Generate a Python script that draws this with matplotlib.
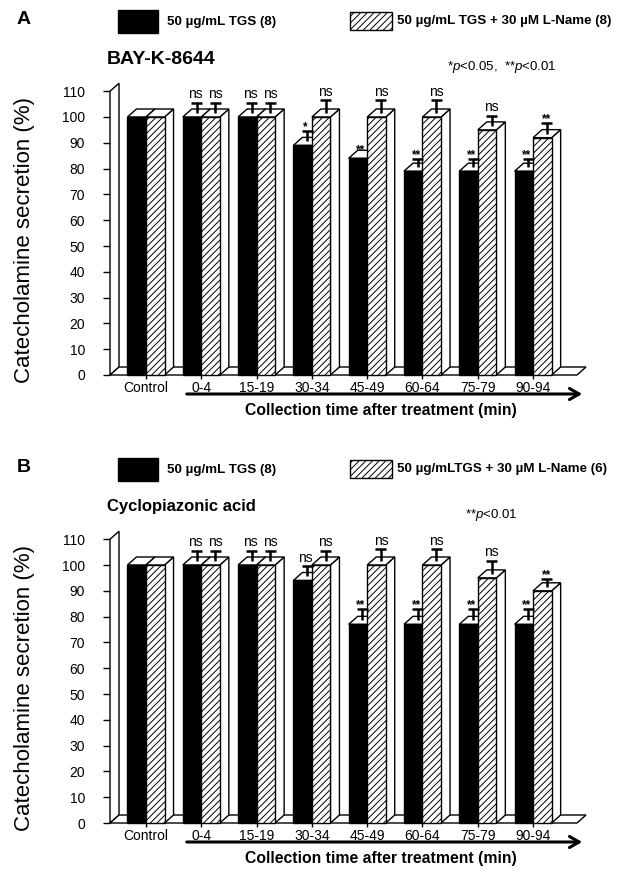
import matplotlib
matplotlib.use('Agg')
import matplotlib.pyplot as plt
from matplotlib.patches import Polygon, Rectangle, FancyArrowPatch

plt.rcParams['font.family'] = ['Liberation Sans', 'DejaVu Sans']
plt.rcParams['mathtext.fontset'] = 'custom'
plt.rcParams['mathtext.it'] = 'Liberation Sans:italic'
plt.rcParams['mathtext.rm'] = 'Liberation Sans'
plt.rcParams['hatch.linewidth'] = 0.7

# ---------------- data ----------------
categories = ['Control', '0-4', '15-19', '30-34', '45-49', '60-64', '75-79', '90-94']
yticks = [0, 10, 20, 30, 40, 50, 60, 70, 80, 90, 100, 110]

a_tgs = [100, 100, 100, 89, 84, 79, 79, 79]
a_tgs_err = [0, 4, 4, 4, 0, 3, 3, 3]
a_lname = [100, 100, 100, 100, 100, 100, 95, 92]
a_lname_err = [0, 4, 4, 5, 5, 5, 4, 4]
a_tgs_sig = ['', 'ns', 'ns', '*', '**', '**', '**', '**']
a_lname_sig = ['', 'ns', 'ns', 'ns', 'ns', 'ns', 'ns', '**']

b_tgs = [100, 100, 100, 94, 77, 77, 77, 77]
b_tgs_err = [0, 4, 4, 4, 4.5, 4.5, 4.5, 4.5]
b_lname = [100, 100, 100, 100, 100, 100, 95, 90]
b_lname_err = [0, 4, 4, 4, 4.5, 4.5, 5, 3]
b_tgs_sig = ['', 'ns', 'ns', 'ns', '**', '**', '**', '**']
b_lname_sig = ['', 'ns', 'ns', 'ns', 'ns', 'ns', 'ns', '**']

legend_a = ['50 µg/mL TGS (8)', '50 µg/mL TGS + 30 µM L-Name (8)']
legend_b = ['50 µg/mL TGS (8)', '50 µg/mLTGS + 30 µM L-Name (6)']

# ---------------- layout ----------------
W, H = 623, 871
fig = plt.figure(figsize=(W / 100, H / 100), dpi=100)


def fx(px):
    return px / W


def fy(py):
    return 1 - py / H


GROUP0_PX = 146.0      # pixel x of first group centre
GROUP_PX = 55.3        # pixels per group
BAR_W = 0.335          # bar width in group units
DX = 0.163             # 3D depth offset (group units)
DY = 3.1               # 3D depth offset (value units)
WALL_PX = 110.0
FLOOR_END_PX = 577.0
RIGHT_PX = 615.0


def panel(off, letter, title, title_fs, legend, tgs, tgs_err, lname, lname_err, tgs_sig, lname_sig,
          ptext, ptext_x):
    y0 = 375 + off
    y110 = 91.2 + off
    ax = fig.add_axes([fx(WALL_PX), fy(y0), fx(RIGHT_PX) - fx(WALL_PX), (y0 - y110) / H])
    i0 = (WALL_PX - GROUP0_PX) / GROUP_PX
    iend = (FLOOR_END_PX - GROUP0_PX) / GROUP_PX
    ax.set_xlim(i0, (RIGHT_PX - GROUP0_PX) / GROUP_PX)
    ax.set_ylim(0, 110)
    for s in ax.spines.values():
        s.set_visible(False)
    ax.patch.set_alpha(0)

    lw = 1.0
    # wall
    ax.add_patch(Polygon([(i0, 0), (i0, 110), (i0 + DX, 110 + DY), (i0 + DX, DY)],
                         closed=True, facecolor='white', edgecolor='black', lw=lw, clip_on=False, zorder=1))
    # floor
    ax.add_patch(Polygon([(i0, 0), (iend, 0), (iend + DX, DY), (i0 + DX, DY)],
                         closed=True, facecolor='white', edgecolor='black', lw=lw, clip_on=False, zorder=1))

    def bar3d(xl, v, face, hatch, z):
        ax.add_patch(Polygon([(xl + BAR_W, 0), (xl + BAR_W + DX, DY), (xl + BAR_W + DX, v + DY), (xl + BAR_W, v)],
                             closed=True, facecolor='white', edgecolor='black', lw=lw, clip_on=False, zorder=z))
        ax.add_patch(Polygon([(xl, v), (xl + DX, v + DY), (xl + BAR_W + DX, v + DY), (xl + BAR_W, v)],
                             closed=True, facecolor='white', edgecolor='black', lw=lw, clip_on=False, zorder=z))
        ax.add_patch(Rectangle((xl, 0), BAR_W, v, facecolor=face, edgecolor='black', hatch=hatch,
                               lw=lw, clip_on=False, zorder=z + 0.5))

    def errbar(xc, v, e, sig, z, dxo=0.0):
        base = v + DY / 2
        top = base + e
        if e > 0:
            ax.plot([xc, xc], [base, top], color='black', lw=1.8, clip_on=False, zorder=z,
                    solid_capstyle='butt')
            ax.plot([xc - 0.1, xc + 0.1], [top, top], color='black', lw=1.8, clip_on=False, zorder=z,
                    solid_capstyle='butt')
        if sig:
            if sig == 'ns':
                ax.text(xc + dxo, top + 0.6, sig, ha='center', va='bottom', fontsize=10, clip_on=False, zorder=z)
            else:
                ax.text(xc + dxo, top - 0.8, sig, ha='center', va='bottom', fontsize=8.5, fontweight='bold',
                        clip_on=False, zorder=z)

    for i in range(len(categories)):
        z = 3 + i * 2
        bar3d(i - BAR_W, tgs[i], 'black', None, z)
        bar3d(i, lname[i], 'white', '/////', z + 1)
        errbar(i - BAR_W / 2 + DX / 2, tgs[i], tgs_err[i], tgs_sig[i], z + 1.8, dxo=-0.03)
        errbar(i + BAR_W / 2 + DX / 2, lname[i], lname_err[i], lname_sig[i], z + 1.9)

    ax.set_yticks(yticks)
    ax.set_yticklabels([str(t) for t in yticks], fontsize=10)
    ax.tick_params(axis='y', direction='out', length=5, width=1, pad=13)
    ax.set_xticks(list(range(len(categories))))
    ax.set_xticklabels(categories, fontsize=10)
    ax.tick_params(axis='x', direction='out', length=3, width=1, pad=1)

    # y label
    fig.text(fx(25), fy(240 + off), 'Catecholamine secretion (%)', rotation=90, ha='center', va='center',
             fontsize=16)
    # x axis arrow and label
    fig.add_artist(FancyArrowPatch((fx(184), fy(394 + off)), (fx(585), fy(394 + off)),
                                   transform=fig.transFigure, arrowstyle='->,head_length=7,head_width=4',
                                   mutation_scale=1, lw=2.2, color='black'))
    fig.text(fx(381), fy(410 + off), 'Collection time after treatment (min)', ha='center', va='center',
             fontsize=11.3, fontweight='bold')
    # panel letter and title
    fig.text(fx(17), fy(19.5 + off), letter, ha='left', va='center', fontsize=14, fontweight='bold')
    fig.text(fx(107), fy(59 + off), title, ha='left', va='center', fontsize=title_fs, fontweight='bold')
    fig.text(ptext_x, fy(67 + off), ptext, ha='left', va='center', fontsize=9.5)
    # legend
    fig.add_artist(Rectangle((fx(118), fy(33 + off)), fx(40), 23 / H, transform=fig.transFigure,
                             facecolor='black', edgecolor='black', lw=1))
    fig.text(fx(167), fy(22 + off), legend[0], ha='left', va='center', fontsize=9.6, fontweight='bold')
    fig.add_artist(Rectangle((fx(350), fy(30 + off)), fx(42), 18 / H, transform=fig.transFigure,
                             facecolor='white', edgecolor='black', hatch='/////', lw=1))
    fig.text(fx(397), fy(21 + off), legend[1], ha='left', va='center', fontsize=9.6, fontweight='bold')


panel(0, 'A', 'BAY-K-8644', 14, legend_a, a_tgs, a_tgs_err, a_lname, a_lname_err, a_tgs_sig, a_lname_sig,
      '*$p$<0.05,  **$p$<0.01', fx(447))
panel(448, 'B', 'Cyclopiazonic acid', 12, legend_b, b_tgs, b_tgs_err, b_lname, b_lname_err, b_tgs_sig,
      b_lname_sig, '**$p$<0.01', fx(465))

fig.savefig('out.png', dpi=100, facecolor='white')
